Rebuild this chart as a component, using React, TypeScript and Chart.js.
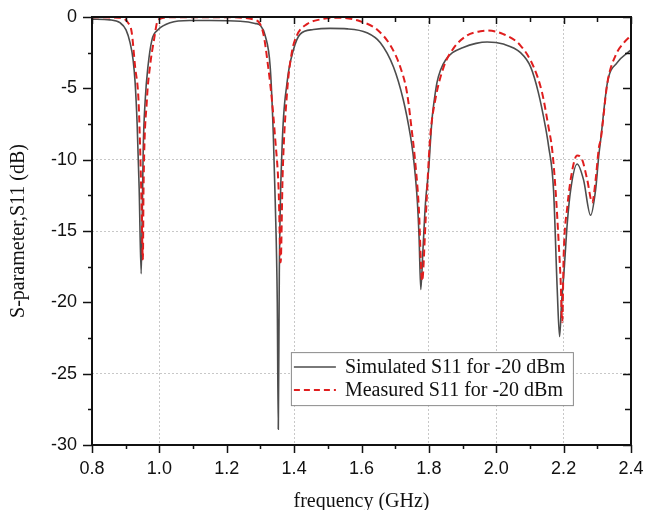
import React, { useEffect, useRef } from "react";
import { Chart, registerables } from "chart.js";

Chart.register(...registerables);

// Simulated S11 (GHz, dB)
const simFreq = [
  0.8, 0.853, 0.883, 0.901, 0.913, 0.922, 0.928, 0.934, 0.94, 0.946, 0.949, 0.952, 0.958, 0.966, 0.978, 0.996,
  1.032, 1.09, 1.15, 1.24, 1.284, 1.3, 1.314, 1.329, 1.338, 1.344, 1.35, 1.353, 1.356, 1.364, 1.379, 1.398,
  1.418, 1.457, 1.507, 1.558, 1.616, 1.656, 1.695, 1.724, 1.745, 1.753, 1.76, 1.766, 1.771, 1.776, 1.782, 1.79,
  1.8, 1.805, 1.81, 1.815, 1.824, 1.835, 1.85, 1.87, 1.9, 1.94, 1.973, 2.021, 2.072, 2.102, 2.125, 2.146,
  2.155, 2.17, 2.181, 2.188, 2.194, 2.201, 2.211, 2.221, 2.24, 2.259, 2.28, 2.295, 2.304, 2.31, 2.33, 2.359, 2.4,
];
const simS11 = [
  -0.15, -0.2, -0.4, -0.9, -1.8, -3.0, -4.6, -7.5, -12, -18.0, -14, -9.3, -5.8, -3.5, -1.6, -0.9,
  -0.4, -0.25, -0.25, -0.3, -0.45, -0.6, -1.3, -3.5, -8.1, -13, -20, -28.9, -18, -9.3, -4.6, -2.3,
  -1.2, -0.88, -0.8, -0.83, -1.1, -1.8, -3.5, -5.8, -8.3, -9.6, -11.2, -13.0, -15.5, -19.1, -16.5, -13.0,
  -10.5, -8.6, -7.0, -6.0, -4.6, -3.7, -3.0, -2.5, -2.15, -1.85, -1.75, -1.9, -2.5, -3.5, -5.3, -7.7,
  -9.0, -12.1, -19.1, -22.4, -20, -17.9, -14.4, -12.1, -10.3, -11.4, -13.9, -12.1, -9.8, -8.6, -4.6, -3.2, -2.3,
];

// Measured S11 (GHz, dB)
const measFreq = [
  0.8, 0.88, 0.907, 0.918, 0.928, 0.938, 0.943, 0.947, 0.951, 0.953, 0.963, 0.972, 0.984, 0.996, 1.03, 1.2,
  1.284, 1.308, 1.323, 1.334, 1.344, 1.354, 1.36, 1.366, 1.379, 1.393, 1.408, 1.438, 1.478, 1.537, 1.596,
  1.646, 1.686, 1.715, 1.735, 1.75, 1.758, 1.77, 1.78, 1.79, 1.8, 1.805, 1.819, 1.844, 1.873, 1.913, 1.953,
  1.973, 2.021, 2.072, 2.111, 2.136, 2.155, 2.166, 2.176, 2.186, 2.191, 2.196, 2.2, 2.211, 2.226, 2.24, 2.255,
  2.27, 2.285, 2.295, 2.305, 2.31, 2.33, 2.354, 2.379, 2.4,
];
const measS11 = [
  -0.02, -0.05, -0.4, -1.1, -3.5, -5.8, -9.3, -13, -17.0, -12, -5.8, -3.5, -1.6, -0.2, -0.02, -0.02,
  -0.2, -1.1, -3.5, -5.8, -8.6, -12.1, -17.2, -11, -5.3, -2.5, -1.3, -0.5, -0.17, -0.05, -0.3,
  -0.88, -2.0, -3.5, -5.3, -8.1, -9.8, -13.3, -18.5, -14.4, -9.8, -8.1, -5.8, -3.5, -2.2, -1.3, -1.0,
  -0.95, -1.2, -2.0, -3.5, -5.3, -7.7, -9.3, -12.1, -16.1, -18.4, -21.4, -16.8, -13.3, -10.7, -9.7, -10.0,
  -11.4, -13.0, -11.4, -9.1, -8.6, -4.6, -2.7, -1.8, -1.3,
];

const seriesLabels = ["Simulated S11 for -20 dBm", "Measured S11 for -20 dBm"];
const xTitle = "frequency (GHz)";
const yTitle = "S-parameter,S11 (dB)";
const xGridValues = [1.0, 1.4, 1.8, 2.0, 2.2];
const yGridValues = [-10, -15, -25];

const SIM_COLOR = "#4d4d4d";
const MEAS_COLOR = "#e01e1e";

const isMajorX = (v: number) => Math.abs(Math.round(v * 10) % 2) === 0;
const isMajorY = (v: number) => Math.abs(Math.round(v * 10) % 50) === 0;

const framePlugin = {
  id: "frameTicks",
  afterDraw(chart: any) {
    const { ctx, chartArea } = chart;
    const { left, right, top, bottom } = chartArea;
    const xs = chart.scales.x;
    const ys = chart.scales.y;
    ctx.save();
    ctx.strokeStyle = "#111";
    ctx.lineWidth = 1.5;
    ctx.beginPath();
    xs.ticks.forEach((t: any) => {
      const px = Math.round(xs.getPixelForValue(t.value)) + 0.5;
      const len = isMajorX(t.value) ? 8 : 4;
      ctx.moveTo(px, bottom);
      ctx.lineTo(px, bottom + len);
      const lenTop = isMajorX(t.value) ? 7 : 5;
      ctx.moveTo(px, top);
      ctx.lineTo(px, top + lenTop);
    });
    ys.ticks.forEach((t: any) => {
      const py = Math.round(ys.getPixelForValue(t.value)) + 0.5;
      const len = isMajorY(t.value) ? 9 : 4;
      ctx.moveTo(left, py);
      ctx.lineTo(left - len, py);
      const lenR = isMajorY(t.value) ? 8 : 6;
      ctx.moveTo(right, py);
      ctx.lineTo(right - lenR, py);
    });
    ctx.stroke();
    ctx.lineWidth = 2;
    ctx.strokeRect(left, top, right - left, bottom - top);

    // legend
    const w = right - left;
    const h = bottom - top;
    const bx = left + w * 0.369;
    const by = top + h * 0.783;
    const bw = 282;
    const bh = 53;
    ctx.fillStyle = "#fff";
    ctx.fillRect(bx, by, bw, bh);
    ctx.strokeStyle = "#8a8a8a";
    ctx.lineWidth = 1;
    ctx.strokeRect(bx + 0.5, by + 0.5, bw, bh);
    const rows = [
      { y: by + 15, color: SIM_COLOR, dash: [] as number[], width: 1.5 },
      { y: by + 38, color: MEAS_COLOR, dash: [6, 4], width: 2 },
    ];
    rows.forEach((r, i) => {
      ctx.beginPath();
      ctx.setLineDash(r.dash);
      ctx.strokeStyle = r.color;
      ctx.lineWidth = r.width;
      ctx.moveTo(bx + 3, r.y);
      ctx.lineTo(bx + 45, r.y);
      ctx.stroke();
      ctx.setLineDash([]);
      ctx.fillStyle = "#111";
      ctx.font = '20px "Liberation Serif", "Times New Roman", serif';
      ctx.textBaseline = "middle";
      ctx.textAlign = "left";
      ctx.fillText(seriesLabels[i], bx + 54, r.y + 1);
    });
    ctx.restore();
  },
};

export default function App() {
  const canvasRef = useRef<HTMLCanvasElement | null>(null);

  useEffect(() => {
    if (!canvasRef.current) return;
    const simData = simFreq.map((f, i) => ({ x: f, y: simS11[i] }));
    const measData = measFreq.map((f, i) => ({ x: f, y: measS11[i] }));
    const chart = new Chart(canvasRef.current, {
      type: "line",
      data: {
        datasets: [
          {
            label: seriesLabels[0],
            data: simData,
            borderColor: SIM_COLOR,
            borderWidth: 1.6,
            pointRadius: 0,
            cubicInterpolationMode: "monotone",
            fill: false,
            order: 2,
          },
          {
            label: seriesLabels[1],
            data: measData,
            borderColor: MEAS_COLOR,
            borderWidth: 2,
            borderDash: [7, 4],
            pointRadius: 0,
            cubicInterpolationMode: "monotone",
            fill: false,
            order: 1,
          },
        ],
      },
      options: {
        responsive: false,
        animation: false,
        clip: false as any,
        layout: { padding: { top: 17, right: 14, left: 0, bottom: 0 } },
        plugins: { legend: { display: false }, tooltip: { enabled: false } },
        scales: {
          x: {
            type: "linear",
            min: 0.8,
            max: 2.4,
            afterFit: (s: any) => {
              s.height = 65;
              s.paddingLeft = 0;
              s.paddingRight = 0;
            },
            ticks: {
              stepSize: 0.1,
              autoSkip: false,
              maxRotation: 0,
              padding: 13,
              color: "#111",
              font: { family: '"Liberation Sans", Arial, sans-serif', size: 18 },
              callback: (v: any) => (isMajorX(Number(v)) ? Number(v).toFixed(1) : ""),
            },
            grid: {
              drawTicks: false,
              lineWidth: 1,
              color: (c: any) =>
                c.tick && xGridValues.some((g) => Math.abs(g - c.tick.value) < 1e-6) ? "#c8c8c8" : "rgba(0,0,0,0)",
            },
            border: { display: false, dash: [2, 2] },
            title: {
              display: true,
              text: xTitle,
              color: "#111",
              padding: { top: 0, bottom: -2 },
              font: { family: '"Liberation Serif", "Times New Roman", serif', size: 20, lineHeight: 1 },
            },
          },
          y: {
            type: "linear",
            min: -30,
            max: 0,
            afterFit: (s: any) => {
              s.width = 92;
              s.paddingTop = 0;
              s.paddingBottom = 0;
            },
            ticks: {
              stepSize: 2.5,
              autoSkip: false,
              padding: 15,
              color: "#111",
              font: { family: '"Liberation Sans", Arial, sans-serif', size: 18 },
              callback: (v: any) => (isMajorY(Number(v)) ? String(Number(v)) : ""),
            },
            grid: {
              drawTicks: false,
              lineWidth: 1,
              color: (c: any) =>
                c.tick && yGridValues.some((g) => Math.abs(g - c.tick.value) < 1e-6) ? "#c8c8c8" : "rgba(0,0,0,0)",
            },
            border: { display: false, dash: [2, 2] },
            title: {
              display: true,
              text: yTitle,
              color: "#111",
              padding: { top: 9, bottom: 0 },
              font: { family: '"Liberation Serif", "Times New Roman", serif', size: 20, lineHeight: 1 },
            },
          },
        },
      },
      plugins: [framePlugin],
    });
    return () => chart.destroy();
  }, []);

  return (
    <div style={{ position: "absolute", left: 0, top: 0, width: 645, height: 510, background: "#fff" }}>
      <canvas ref={canvasRef} width={645} height={510} />
    </div>
  );
}
